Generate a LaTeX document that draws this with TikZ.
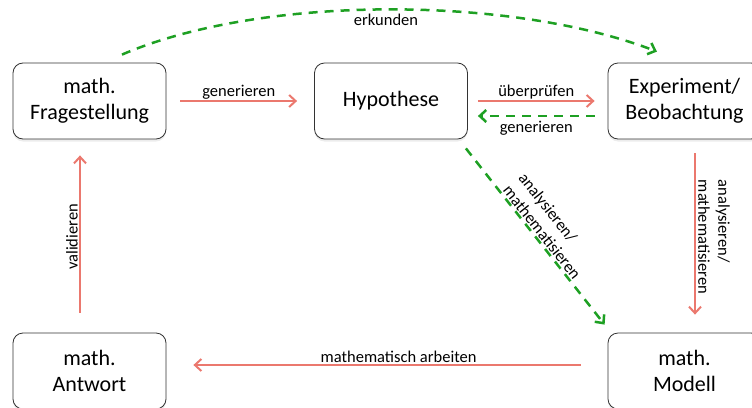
\documentclass[tikz,border=0pt]{standalone}
\usepackage{fontspec}
\setmainfont{Carlito}
\usetikzlibrary{arrows.meta,shadows,calc}
\definecolor{redarr}{RGB}{235,120,110}
\definecolor{greenarr}{RGB}{30,160,35}
\begin{document}
\begin{tikzpicture}[x=1pt,y=-1pt,
  box/.style={draw=black!80, line width=0.8pt, rounded corners=10pt, fill=white,
    minimum width=153pt, minimum height=76pt, align=center,
    font=\fontsize{22}{26}\selectfont,
    drop shadow={shadow xshift=0pt, shadow yshift=-2.5pt, opacity=0.15}},
  redline/.style={draw=redarr, line width=2pt, -{Straight Barb[length=6.5pt,width=12pt]}},
  greenline/.style={draw=greenarr, line width=2.5pt, dash pattern=on 9pt off 7pt,
    -{Straight Barb[length=6.5pt,width=12pt]}},
  lbl/.style={font=\fontsize{16.5}{20}\selectfont, inner sep=0pt}]
\useasboundingbox (0,0) rectangle (752,407);

\node[box] (frage) at (89.5,101) {math.\\Fragestellung};
\node[box] (hyp) at (391,101) {Hypothese};
\node[box] (exp) at (684.5,101) {Experiment/\\Beobachtung};
\node[box] (antw) at (89.5,371) {math.\\Antwort};
\node[box] (mod) at (684.5,371) {math.\\Modell};

% horizontal top arrows
\draw[redline] ([xshift=14pt]frage.east) -- ([xshift=-17pt]hyp.west)
  node[lbl, midway, above=1pt] (l1) {generieren};
\draw[redline] ([xshift=10pt]hyp.east) -- ([xshift=-13pt]exp.west)
  node[lbl, midway, above=1pt] (l2) {überprüfen};
\draw[greenline] ([xshift=-13pt,yshift=-15pt]exp.west) -- ([xshift=10pt,yshift=-15pt]hyp.east)
  node[lbl, midway, below=4pt] (l3) {generieren};

% erkunden curve
\coordinate (e1) at ($(frage.north)+(32.5,-8)$);
\coordinate (e2) at ($(exp.north)+(-27.5,-11)$);
\draw[greenline] (e1) .. controls (260,-5) and (510,-5) .. (e2);
\node[lbl] (l4) at (386,20) {erkunden};

% right vertical
\draw[redline] ([xshift=10.5pt,yshift=-14pt]exp.south) -- ([xshift=10.5pt,yshift=18pt]mod.north);
\node[lbl, rotate=-90, align=left] (l5) at (714,237) {analysieren/\\mathematisieren};

% diagonal
\coordinate (d1) at ($(hyp.south east)+(-2,9)$);
\coordinate (d2) at ($(mod.north west)+(-3,-8)$);
\draw[greenline] (d1) -- (d2);
\node[lbl, rotate=-51.66, align=left] (l6) at (550,226) {analysieren/\\mathematisieren};

% left vertical
\draw[redline] ([xshift=-9.5pt,yshift=20pt]antw.north) -- ([xshift=-9.5pt,yshift=-16pt]frage.south);
\node[lbl, rotate=90] (l7) at (72,237) {validieren};

% bottom
\draw[redline] ([xshift=-27pt,yshift=6pt]mod.west) -- ([xshift=27pt,yshift=6pt]antw.east)
  node[lbl, pos=0.47, above=1pt] (l8) {mathematisch arbeiten};
\end{tikzpicture}
\end{document}
